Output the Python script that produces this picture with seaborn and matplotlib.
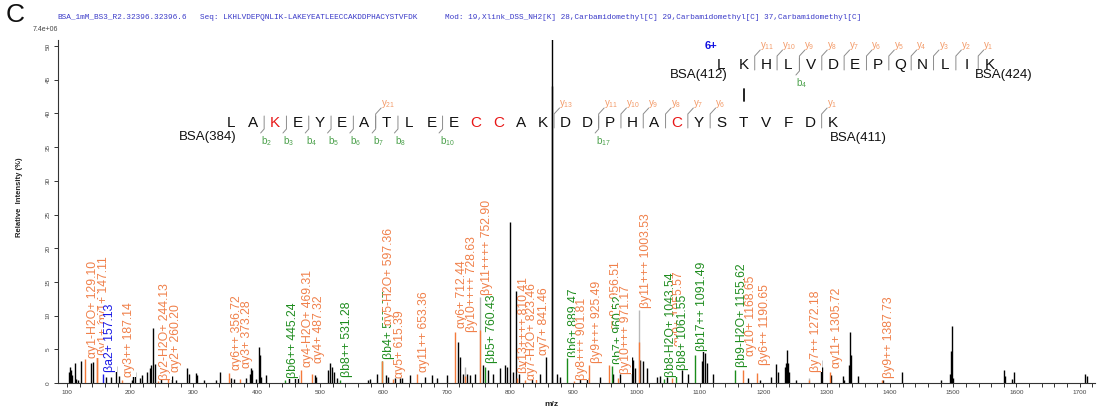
import matplotlib
matplotlib.use("Agg")
import matplotlib.pyplot as plt
import seaborn as sns

W, H = 1097, 412

# unassigned peaks: m/z and relative intensity (%)
peak_mz = [103.6, 105.7, 107.3, 108.4, 112.6, 115.2, 117.9, 123.1, 138.9, 141.6,
           162.6, 170.5, 178.4, 182.6, 202.1, 204.7, 208.4, 215.2, 218.9, 227.3,
           231.0, 233.6, 236.3, 238.9, 249.4, 266.3, 273.1, 290.5, 292.6, 304.7,
           306.3, 316.8, 336.3, 341.6, 359.0, 364.2, 383.7, 389.0, 391.6, 393.2,
           399.5, 403.2, 404.8, 407.4, 414.3, 450.6, 460.1, 465.4, 491.7, 493.0,
           512.8, 515.5, 518.1, 522.3, 526.0, 576.0, 578.7, 589.2, 604.0, 606.6,
           618.2, 626.0, 629.1, 642.2, 665.9, 676.5, 684.4, 700.2, 718.5, 721.2,
           726.4, 731.7, 737.0, 744.9, 757.0, 765.9, 773.8, 784.4, 792.3, 795.9,
           800.2, 804.4, 809.7, 814.9, 834.4, 847.6, 857.0, 865.6, 866.4, 873.9,
           879.2, 910.8, 921.3, 942.3, 963.4, 973.9, 992.4, 995.0, 997.6, 1005.0,
           1010.7, 1016.0, 1031.9, 1037.0, 1047.7, 1071.4, 1081.9, 1103.0, 1105.5, 1108.2,
           1110.9, 1121.3, 1176.6, 1195.1, 1212.5, 1220.4, 1222.5, 1234.6, 1236.2, 1237.3,
           1238.9, 1241.4, 1251.5, 1291.0, 1293.0, 1307.5, 1325.7, 1327.8, 1335.7, 1337.3,
           1338.8, 1350.4, 1389.0, 1419.4, 1480.6, 1495.3, 1496.9, 1498.4, 1499.5, 1580.6,
           1582.2, 1592.7, 1595.3, 1708.6, 1711.2]
peak_int = [1.7, 2.4, 2.0, 1.2, 2.9, 0.6, 0.5, 3.3, 2.9, 3.1,
            0.9, 0.9, 2.5, 1.0, 0.5, 1.0, 1.6, 0.8, 1.2, 1.6,
            2.3, 2.6, 8.1, 2.8, 0.8, 1.0, 0.5, 2.2, 1.4, 1.5,
            1.2, 0.5, 0.5, 1.6, 0.8, 0.6, 0.8, 1.4, 2.3, 1.9,
            0.6, 5.3, 4.1, 0.9, 1.2, 0.7, 0.8, 1.2, 1.2, 0.9,
            1.9, 2.9, 2.4, 1.7, 0.7, 0.5, 0.6, 1.4, 1.2, 0.9,
            0.7, 0.7, 0.7, 1.2, 0.9, 1.2, 0.7, 1.2, 6.1, 3.9,
            1.4, 1.4, 1.2, 1.4, 2.7, 1.9, 1.4, 2.2, 2.7, 2.4,
            23.9, 1.7, 13.7, 1.4, 0.7, 1.4, 3.9, 100.0, 44.0, 1.4,
            0.9, 0.9, 0.7, 0.9, 1.4, 1.4, 3.9, 3.4, 2.2, 3.4,
            3.2, 2.2, 0.9, 1.1, 0.9, 1.9, 1.4, 3.2, 4.7, 4.4,
            2.9, 1.4, 0.7, 0.5, 0.9, 2.8, 1.7, 2.4, 3.0, 4.9,
            2.9, 1.7, 0.5, 3.4, 2.4, 1.2, 1.1, 0.5, 2.7, 7.6,
            4.2, 1.1, 0.4, 1.6, 0.5, 1.4, 4.7, 8.4, 0.8, 1.9,
            1.1, 0.6, 1.7, 1.4, 1.1]

# total height of assigned peaks whose matched part is shorter (drawn light grey)
grey_mz = [728.63, 752.90, 1003.53, 1272.18]
grey_int = [2.4, 12.8, 10.8, 0.8]

# assigned fragment peaks
ann_text = ["αy1-H2O+ 129.10", "βy1+ 147.11", "αy1+ 147.11", "βa2+ 157.13", "αy3++ 187.14",
            "βy2-H2O+ 244.13", "αy2+ 260.20", "αy6++ 356.72", "αy3+ 373.28", "βb6++ 445.24",
            "αy4-H2O+ 469.31", "αy4+ 487.32", "βb8++ 531.28", "βb4+ 597.37", "αy5-H2O+ 597.36",
            "αy5+ 615.39", "αy11++ 653.36", "αy6+ 712.44", "βy10++++ 728.63", "βy11++++ 752.90",
            "βb5+ 760.43", "βy13++++ 810.41", "αy7-H2O+ 823.46", "αy7+ 841.46", "βb6+ 889.47",
            "βy8+++ 901.81", "βy9+++ 925.49", "αy8+ 956.51", "βb7+ 960.52", "βy10+++ 971.17",
            "βy11+++ 1003.53", "βb8-H2O+ 1043.54", "αy9+ 1055.57", "βb8+ 1061.55", "βb17++ 1091.49",
            "βb9-H2O+ 1155.62", "αy10+ 1168.65", "βy6++ 1190.65", "βy7++ 1272.18", "αy11+ 1305.72",
            "βy9++ 1387.73"]
ann_mz = [129.10, 147.11, 147.11, 157.13, 187.14,
          244.13, 260.20, 356.72, 373.28, 445.24,
          469.31, 487.32, 531.28, 597.37, 597.36,
          615.39, 653.36, 712.44, 728.63, 752.90,
          760.43, 810.41, 823.46, 841.46, 889.47,
          901.81, 925.49, 956.51, 960.52, 971.17,
          1003.53, 1043.54, 1055.57, 1061.55, 1091.49,
          1155.62, 1168.65, 1190.65, 1272.18, 1305.72,
          1387.73]
ann_int = [3.5, 3.9, 3.9, 1.3, 0.5,
           0.3, 0.9, 1.5, 0.6, 0.4,
           2.0, 1.3, 0.5, 3.3, 3.3,
           0.6, 1.4, 7.6, 1.0, 7.9,
           2.4, 0.7, 0.4, 3.9, 3.7,
           0.3, 2.7, 2.7, 2.5, 0.8,
           6.1, 0.6, 0.8, 1.2, 4.2,
           1.9, 1.9, 1.5, 0.4, 1.7,
           0.5]
# intensity where each label starts
ann_label_at = [3.7, 4.2, 8.9, 1.7, 0.9,
                0.5, 1.6, 1.9, 2.2, 0.7,
                2.4, 2.9, 0.9, 3.5, 8.6,
                0.8, 1.6, 8.1, 7.6, 13.1,
                2.9, 1.5, 0.5, 4.2, 3.9,
                0.5, 2.9, 8.0, 2.8, 1.4,
                11.1, 0.9, 5.5, 1.9, 4.7,
                2.4, 4.0, 2.7, 1.7, 2.2,
                0.7]
ann_kind = ["o", "o", "o", "b", "o",
            "o", "o", "o", "o", "g",
            "o", "o", "g", "g", "o",
            "o", "o", "o", "o", "o",
            "g", "o", "o", "o", "g",
            "o", "o", "o", "g", "o",
            "o", "g", "o", "g", "g",
            "g", "o", "o", "o", "o",
            "o"]

# peptides
alpha_seq = "LKHLVDEPQNLIK"
alpha_y = [11, 10, 9, 8, 7, 6, 5, 4, 3, 2, 1]
alpha_b = [4]
beta_seq = "LAKEYEATLEECCAKDDPHACYSTVFDK"
beta_y = [21, 13, 11, 10, 9, 8, 7, 6, 1]
beta_b = [2, 3, 4, 5, 6, 7, 8, 10, 17]
beta_red = [2, 11, 12, 20]

header_name = "BSA_1mM_BS3_R2.32396.32396.6"
header_seq = "Seq: LKHLVDEPQNLIK-LAKEYEATLEECCAKDDPHACYSTVFDK"
header_mod = "Mod: 19,Xlink_DSS_NH2[K] 28,Carbamidomethyl[C] 29,Carbamidomethyl[C] 37,Carbamidomethyl[C]"

peak_col = {"o": "#f47a3a", "g": "#1a8c1a", "b": "#1818e6"}
text_col = {"o": "#f0804a", "g": "#1e8c1e", "b": "#1818e6"}
y_col = "#f39a68"
b_col = "#4aa04a"
mark_col = "#8c8c8c"

sns.set_theme(style="ticks")
plt.rcParams['font.family'] = ['Liberation Sans', 'DejaVu Sans']
plt.rcParams['mathtext.fontset'] = 'custom'
plt.rcParams['mathtext.rm'] = 'Liberation Sans'
plt.rcParams['mathtext.it'] = 'Liberation Sans'
plt.rcParams['mathtext.default'] = 'regular'

fig = plt.figure(figsize=(W / 100, H / 100), dpi=100)
ax = fig.add_axes([58 / W, 1 - 383 / H, (1095 - 58) / W, (383 - 40) / H])

ax.vlines(peak_mz, 0, peak_int, color="black", lw=1.0, zorder=2)
ax.vlines(grey_mz, 0, grey_int, color="#b8b8b8", lw=1.0, zorder=2)
for m, h, k in zip(ann_mz, ann_int, ann_kind):
    ax.vlines(m, 0, h, color=peak_col[k], lw=1.0, zorder=2)

for t, m, at, k in zip(ann_text, ann_mz, ann_label_at, ann_kind):
    ax.annotate(t, (m, at), xytext=(0.9, 0), textcoords="offset points",
                rotation=90, ha="left", va="bottom", fontsize=8.8,
                color=text_col[k], zorder=3,
                bbox=dict(facecolor="white", edgecolor="none", pad=0.2))

ax.set_xlim(86, 1724)
ax.set_ylim(0, 50.9)
ax.set_xticks(range(100, 1701, 100))
ax.set_xticks(range(100, 1721, 20), minor=True)
ax.set_yticks(range(0, 51, 5))
ax.tick_params(axis="both", which="both", direction="out", length=3.2, width=0.7,
               colors="#333333", labelsize=4.6, labelcolor="#444444", pad=2)
for lab in ax.get_yticklabels():
    lab.set_rotation(90)
    lab.set_va("center")
for s in ["left", "bottom"]:
    ax.spines[s].set_color("#333333")
    ax.spines[s].set_linewidth(0.8)
sns.despine(ax=ax)

# overlay in pixel coordinates for the header and the peptide maps
ov = fig.add_axes([0, 0, 1, 1], zorder=5)
ov.set_xlim(0, W)
ov.set_ylim(H, 0)
ov.axis("off")

ov.text(6, 15, "C", fontsize=19, va="center", ha="left", color="#111111")
mono = dict(family="Liberation Mono", fontsize=5.55, color="#3a3ac8", va="center", ha="left")
ov.text(57, 17, header_name, **mono)
ov.text(200, 17, header_seq, **mono)
ov.text(445, 17, header_mod, **mono)
ov.text(45, 29, "7.4e+06", fontsize=5, color="#444444", ha="center", va="center")
ov.text(20, 197, "Relative  Intensity (%)", rotation=90, fontsize=5.5, fontweight="bold",
        ha="center", va="center", color="#222222")
ov.text(551, 405, "m/z", fontsize=6, fontweight="bold", ha="center", va="center", color="#222222")


def draw_peptide(seq, x0, step, y, red, b_ions, y_ions):
    n = len(seq)
    for i, aa in enumerate(seq):
        ov.text(x0 + i * step, y + 5.4, aa, ha="center", va="baseline", fontsize=11,
                color="#e81818" if i in red else "#111111")
    for b in b_ions:
        gx = x0 + (b - 0.5) * step
        ov.plot([gx, gx, gx - 3.5], [y - 6, y + 7, y + 11], color=mark_col, lw=0.7)
        ov.text(gx - 3, y + 19.5, f"b$_{{{b}}}$", ha="left", va="center", fontsize=7, color=b_col)
    for k in y_ions:
        gx = x0 + (n - k - 0.5) * step
        ov.plot([gx, gx, gx + 5.5], [y + 6, y - 8, y - 14], color=mark_col, lw=0.7)
        ov.text(gx + 5, y - 18.5, f"y$_{{{k}}}$", ha="left", va="center", fontsize=7, color=y_col)


# top peptide (alpha)
draw_peptide(alpha_seq, 721.2, 22.35, 64, [], alpha_b, alpha_y)
ov.text(711, 46, "6+", color="#1010e0", fontweight="bold", fontsize=8, ha="center", va="center")
ov.text(728, 75, "BSA(412)", fontsize=9.5, ha="right", va="center", color="#111111")
ov.text(975, 75, "BSA(424)", fontsize=9.5, ha="left", va="center", color="#111111")
ov.plot([743.5, 743.5], [89, 101], color="#111111", lw=1.3)

# bottom peptide (beta)
draw_peptide(beta_seq, 230.7, 22.3, 122, beta_red, beta_b, beta_y)
ov.text(237, 137, "BSA(384)", fontsize=9.5, ha="right", va="center", color="#111111")
ov.text(830, 138, "BSA(411)", fontsize=9.5, ha="left", va="center", color="#111111")

fig.savefig("out.png", dpi=100)
